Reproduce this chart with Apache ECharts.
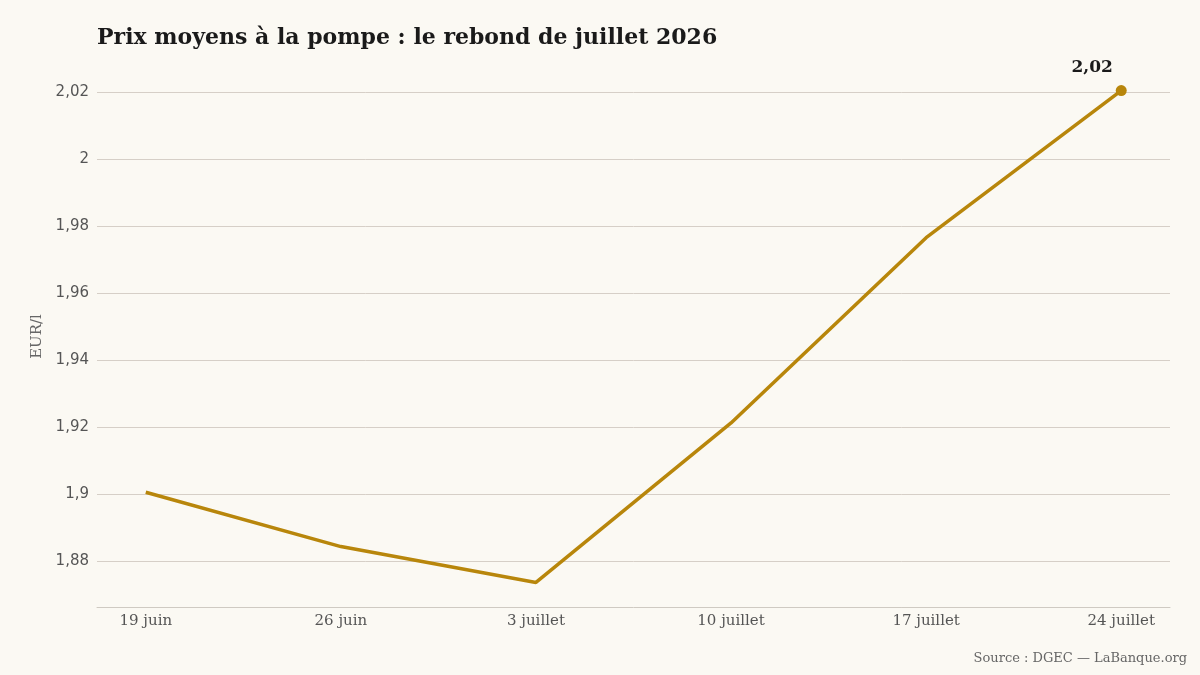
<!DOCTYPE html>
<html>
<head>
<meta charset="utf-8">
<script src="https://cdn.jsdelivr.net/npm/echarts@6/dist/echarts.min.js"></script>
<style>
  html, body { margin: 0; padding: 0; background: #fbf9f3; }
  #main { width: 1200px; height: 675px; }
</style>
</head>
<body>
<div id="main"></div>
<script>
// semaines et prix moyens (EUR/l)
var weeks = ['19 juin', '26 juin', '3 juillet', '10 juillet', '17 juillet', '24 juillet'];
var prices = [1.9005, 1.8843, 1.8736, 1.9212, 1.9765, 2.0204];
var yTicks = [1.88, 1.90, 1.92, 1.94, 1.96, 1.98, 2.00, 2.02];

var serif = '"DejaVu Serif", Georgia, serif';
var gold = '#b8860b';

var myChart = echarts.init(document.getElementById('main'));

var seriesData = prices.map(function (v, i) {
    var item = { value: [i, v] };
    // seule la dernière valeur est marquée
    if (i === prices.length - 1) {
        item.symbol = 'circle';
        item.symbolSize = 11;
        item.label = {
            show: true,
            position: 'top',
            offset: [-29, -4],
            formatter: function (p) { return p.value[1].toFixed(2).replace('.', ','); },
            fontFamily: serif,
            fontWeight: 'bold',
            fontSize: 17,
            color: '#1a1a1a'
        };
    }
    return item;
});

var option = {
    backgroundColor: '#fbf9f3',
    animation: false,
    title: {
        text: 'Prix moyens à la pompe : le rebond de juillet 2026',
        left: 92,
        top: 22,
        textStyle: { fontFamily: serif, fontWeight: 'bold', fontSize: 22, color: '#1a1a1a' }
    },
    graphic: [{
        type: 'text',
        right: 13,
        top: 652,
        style: { text: 'Source : DGEC — LaBanque.org', font: '13px ' + serif, fill: '#666' }
    }],
    grid: { left: 97, right: 30, top: 66, bottom: 68 },
    xAxis: {
        type: 'value',
        min: function (v) { return v.min - 0.05 * (v.max - v.min); },
        max: function (v) { return v.max + 0.05 * (v.max - v.min); },
        axisLine: { show: true, lineStyle: { color: '#cfcac2' } },
        axisTick: { show: false, customValues: weeks.map(function (w, i) { return i; }) },
        splitLine: { show: false },
        axisLabel: {
            customValues: weeks.map(function (w, i) { return i; }),
            formatter: function (v) { return weeks[Math.round(v)]; },
            fontFamily: serif,
            fontSize: 15,
            color: '#555',
            margin: 7
        }
    },
    yAxis: {
        type: 'value',
        name: 'EUR/l',
        nameLocation: 'middle',
        nameGap: 52,
        nameTextStyle: { fontFamily: serif, fontSize: 15, color: '#666' },
        min: function (v) { return v.min - 0.05 * (v.max - v.min); },
        max: function (v) { return v.max + 0.05 * (v.max - v.min); },
        axisLine: { show: false },
        axisTick: { show: false, customValues: yTicks },
        splitLine: { show: true, lineStyle: { color: '#d6cfc7', width: 1 } },
        axisLabel: {
            customValues: yTicks,
            formatter: function (v) { return String(+v.toFixed(2)).replace('.', ','); },
            fontFamily: '"DejaVu Sans", sans-serif',
            fontSize: 15,
            color: '#555',
            margin: 8
        }
    },
    series: [{
        type: 'line',
        data: seriesData,
        symbol: 'none',
        lineStyle: { color: gold, width: 3.5 },
        itemStyle: { color: gold }
    }]
};

myChart.setOption(option);
</script>
</body>
</html>
